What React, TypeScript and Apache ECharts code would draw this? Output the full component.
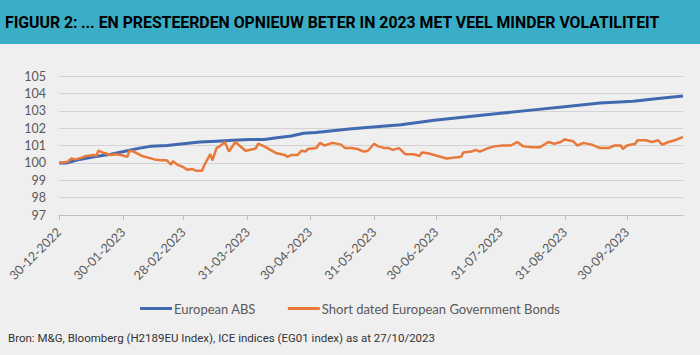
import React, { useEffect, useRef } from "react";
import * as echarts from "echarts";

const titleLead = "FIGUUR 2:";
const titleRest = "... EN PRESTEERDEN OPNIEUW BETER IN 2023 MET VEEL MINDER VOLATILITEIT";
const sourceText = "Bron: M&G, Bloomberg (H2189EU Index), ICE indices (EG01 index) as at 27/10/2023";
const seriesNames = ["European ABS", "Short dated European Government Bonds"];

const startDate = "2022-12-30";
const endDate = "2023-10-27";
const tickDates = [
  "2022-12-30", "2023-01-30", "2023-02-28", "2023-03-31", "2023-04-30",
  "2023-05-31", "2023-06-30", "2023-07-31", "2023-08-31", "2023-09-30",
];
const yTicks = [97, 98, 99, 100, 101, 102, 103, 104, 105];

const absDates = [
  "2022-12-30", "2023-01-03", "2023-01-09", "2023-01-16", "2023-01-24", "2023-02-01",
  "2023-02-07", "2023-02-12", "2023-02-20", "2023-02-28", "2023-03-08", "2023-03-16",
  "2023-03-24", "2023-04-01", "2023-04-08", "2023-04-14", "2023-04-21", "2023-04-27",
  "2023-05-03", "2023-05-11", "2023-05-19", "2023-05-29", "2023-06-13", "2023-06-29",
  "2023-07-15", "2023-07-31", "2023-08-16", "2023-09-01", "2023-09-17", "2023-10-03",
  "2023-10-15", "2023-10-27",
];
const absValues = [
  100.0, 100.0, 100.2, 100.35, 100.5, 100.7,
  100.85, 100.95, 101.0, 101.1, 101.2, 101.25,
  101.3, 101.35, 101.35, 101.45, 101.55, 101.7,
  101.75, 101.85, 101.95, 102.05, 102.2, 102.45,
  102.65, 102.85, 103.05, 103.25, 103.45, 103.55,
  103.7, 103.85,
];

const govDates = [
  "2022-12-30", "2023-01-03", "2023-01-05", "2023-01-07", "2023-01-10", "2023-01-12",
  "2023-01-16", "2023-01-17", "2023-01-18", "2023-01-20", "2023-01-24", "2023-01-26",
  "2023-01-29", "2023-02-01", "2023-02-02", "2023-02-04", "2023-02-08", "2023-02-11",
  "2023-02-14", "2023-02-17", "2023-02-20", "2023-02-22", "2023-02-23", "2023-02-25",
  "2023-02-28", "2023-03-02", "2023-03-04", "2023-03-06", "2023-03-09", "2023-03-10",
  "2023-03-13", "2023-03-14", "2023-03-16", "2023-03-18", "2023-03-20", "2023-03-22",
  "2023-03-25", "2023-03-27", "2023-03-30", "2023-04-03", "2023-04-04", "2023-04-05",
  "2023-04-08", "2023-04-11", "2023-04-14", "2023-04-18", "2023-04-19", "2023-04-21",
  "2023-04-24", "2023-04-26", "2023-04-28", "2023-04-29", "2023-05-03", "2023-05-05",
  "2023-05-07", "2023-05-11", "2023-05-15", "2023-05-17", "2023-05-20", "2023-05-23",
  "2023-05-26", "2023-05-28", "2023-05-31", "2023-06-02", "2023-06-05", "2023-06-07",
  "2023-06-09", "2023-06-12", "2023-06-15", "2023-06-19", "2023-06-22", "2023-06-23",
  "2023-06-26", "2023-06-29", "2023-07-02", "2023-07-05", "2023-07-08", "2023-07-12",
  "2023-07-13", "2023-07-17", "2023-07-19", "2023-07-21", "2023-07-25", "2023-07-28",
  "2023-08-01", "2023-08-05", "2023-08-08", "2023-08-11", "2023-08-15", "2023-08-19",
  "2023-08-23", "2023-08-26", "2023-08-29", "2023-08-31", "2023-09-04", "2023-09-06",
  "2023-09-09", "2023-09-13", "2023-09-17", "2023-09-21", "2023-09-24", "2023-09-27",
  "2023-09-28", "2023-09-30", "2023-10-04", "2023-10-05", "2023-10-09", "2023-10-12",
  "2023-10-15", "2023-10-17", "2023-10-20", "2023-10-23", "2023-10-27",
];
const govValues = [
  100.0, 100.05, 100.25, 100.2, 100.3, 100.4,
  100.45, 100.4, 100.7, 100.6, 100.45, 100.5,
  100.45, 100.35, 100.7, 100.65, 100.4, 100.3,
  100.2, 100.15, 100.15, 99.9, 100.1, 99.9,
  99.75, 99.6, 99.65, 99.55, 99.55, 99.85,
  100.5, 100.15, 100.85, 101.0, 101.2, 100.65,
  101.2, 101.0, 100.7, 100.8, 100.85, 101.1,
  100.95, 100.75, 100.55, 100.45, 100.35, 100.45,
  100.45, 100.7, 100.65, 100.8, 100.85, 101.15,
  101.0, 101.15, 101.05, 100.85, 100.85, 100.8,
  100.65, 100.7, 101.1, 100.95, 100.85, 100.85,
  100.75, 100.85, 100.5, 100.5, 100.4, 100.6,
  100.55, 100.45, 100.35, 100.25, 100.3, 100.35,
  100.6, 100.65, 100.75, 100.65, 100.85, 100.95,
  101.0, 101.0, 101.2, 100.95, 100.9, 100.9,
  101.2, 101.1, 101.2, 101.35, 101.25, 101.0,
  101.15, 101.05, 100.85, 100.85, 101.0, 101.0,
  100.8, 101.0, 101.1, 101.3, 101.3, 101.2,
  101.3, 101.05, 101.2, 101.3, 101.5,
];

const DAY = 86400000;
const toTs = (s: string) => {
  const [y, m, d] = s.split("-").map(Number);
  return Date.UTC(y, m - 1, d);
};
const baseTs = toTs(startDate);
const toDay = (s: string) => Math.round((toTs(s) - baseTs) / DAY);
const pad = (n: number) => (n < 10 ? "0" + n : "" + n);
const fmtDay = (v: number) => {
  const d = new Date(baseTs + Math.round(v) * DAY);
  return pad(d.getUTCDate()) + "-" + pad(d.getUTCMonth() + 1) + "-" + d.getUTCFullYear();
};

export default function App() {
  const ref = useRef<HTMLDivElement>(null);
  useEffect(() => {
    document.body.style.margin = "0";
    const chart = echarts.init(ref.current!, null, { renderer: "svg" });
    const ticks = tickDates.map(toDay);
    const gray = "#595959";
    chart.setOption({
      animation: false,
      backgroundColor: "#efefef",
      grid: { left: 59, right: 17, top: 76, bottom: 140, containLabel: false },
      graphic: [
        { type: "rect", left: 0, top: 0, shape: { width: 700, height: 44 }, style: { fill: "#3aadc7" }, silent: true },
        {
          type: "text",
          x: 5,
          y: 22,
          scaleX: 0.99,
          style: {
            text: "{a|" + titleLead + "} {b|" + titleRest + "}",
            verticalAlign: "middle",
            rich: {
              a: { fontFamily: "Roboto", fontWeight: "bold", fontSize: 16, color: "#1d2a36" },
              b: { fontFamily: "Roboto", fontWeight: "bold", fontSize: 16, color: "#ffffff" },
            },
          },
        },
        {
          type: "text",
          x: 8,
          y: 338,
          style: {
            text: sourceText,
            fontFamily: "Roboto",
            fontSize: 11.5,
            fill: "#333333",
            verticalAlign: "middle",
          },
        },
      ],
      legend: {
        data: seriesNames,
        left: "center",
        top: 297,
        itemWidth: 32,
        itemHeight: 3,
        itemGap: 32,
        icon: "rect",
        textStyle: { fontFamily: "Lato", fontSize: 13, color: gray, padding: [0, 0, 0, -3] },
      },
      xAxis: {
        type: "value",
        min: 0,
        max: toDay(endDate),
        axisLine: { show: true, onZero: false, lineStyle: { color: "#bfbfbf", width: 1 } },
        axisTick: { show: true, length: 5, customValues: ticks, lineStyle: { color: "#bfbfbf" } },
        axisLabel: {
          customValues: ticks,
          rotate: 45,
          margin: 15,
          fontFamily: "Lato",
          fontSize: 12.5,
          color: gray,
          formatter: (v: number) => fmtDay(v),
        },
        splitLine: { show: false },
      },
      yAxis: {
        type: "value",
        min: yTicks[0],
        max: yTicks[yTicks.length - 1],
        interval: 1,
        axisLine: { show: false },
        axisTick: { show: false },
        axisLabel: { fontFamily: "Lato", fontSize: 12.5, color: gray, margin: 13 },
        splitLine: { lineStyle: { color: "#d3d3d3", width: 1 } },
      },
      series: [
        {
          name: seriesNames[0],
          type: "line",
          data: absDates.map((d, i) => [toDay(d), absValues[i]]),
          showSymbol: false,
          lineStyle: { color: "#4169b0", width: 3 },
          itemStyle: { color: "#4169b0" },
        },
        {
          name: seriesNames[1],
          type: "line",
          data: govDates.map((d, i) => [toDay(d), govValues[i]]),
          showSymbol: false,
          lineStyle: { color: "#e8793a", width: 2.5 },
          itemStyle: { color: "#e8793a" },
        },
      ],
    });
    return () => chart.dispose();
  }, []);
  return <div ref={ref} style={{ width: 700, height: 355 }} />;
}
